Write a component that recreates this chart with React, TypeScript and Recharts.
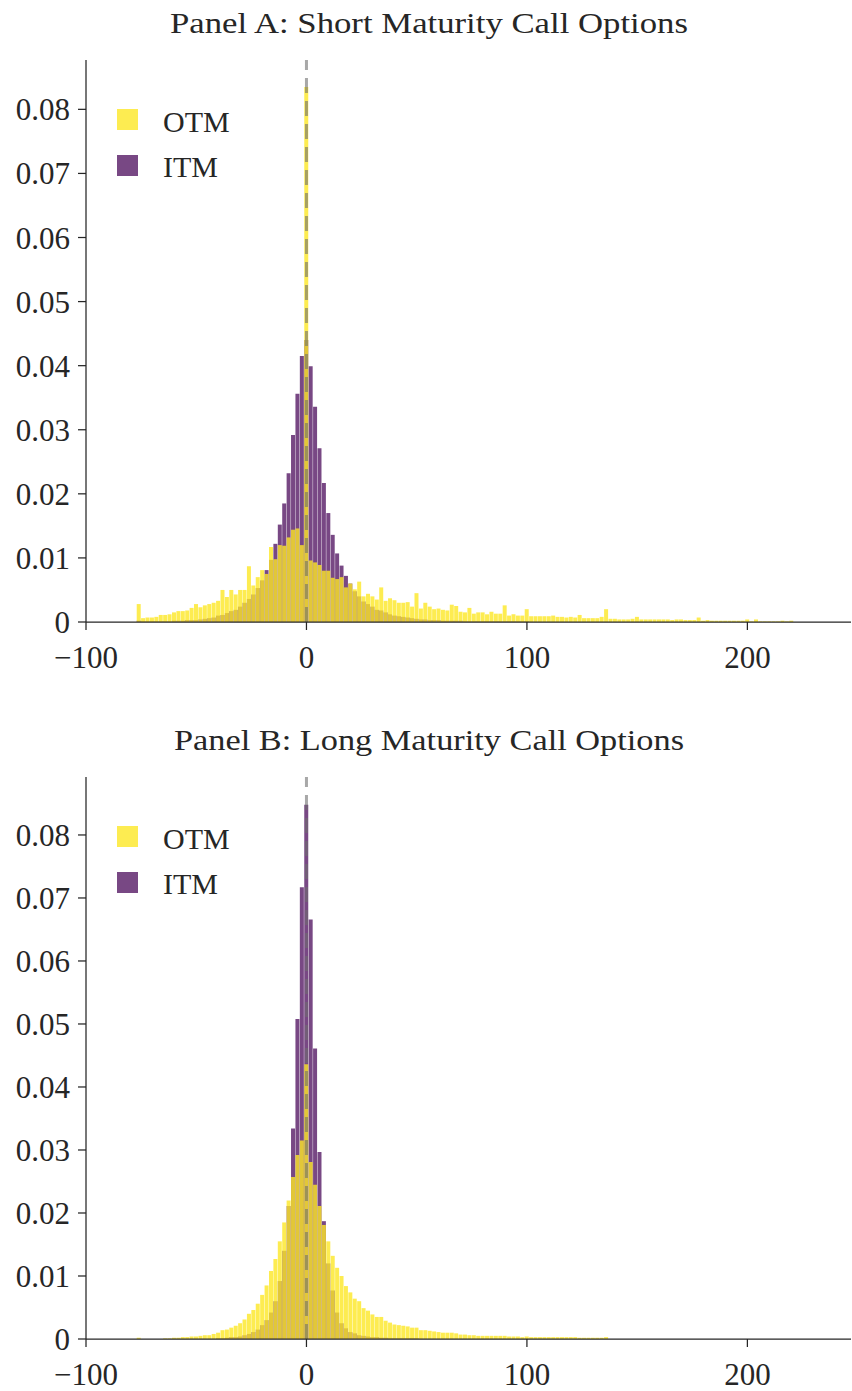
import React from 'react';
import { ComposedChart, Bar, XAxis, YAxis, ReferenceLine } from 'recharts';

// Histogram bin centres (bin width 2)
const binCenters = [
  -76, -74, -72, -70, -68, -66, -64, -62, -60, -58,
  -56, -54, -52, -50, -48, -46, -44, -42, -40, -38,
  -36, -34, -32, -30, -28, -26, -24, -22, -20, -18,
  -16, -14, -12, -10, -8, -6, -4, -2, 0, 2,
  4, 6, 8, 10, 12, 14, 16, 18, 20, 22,
  24, 26, 28, 30, 32, 34, 36, 38, 40, 42,
  44, 46, 48, 50, 52, 54, 56, 58, 60, 62,
  64, 66, 68, 70, 72, 74, 76, 78, 80, 82,
  84, 86, 88, 90, 92, 94, 96, 98, 100, 102,
  104, 106, 108, 110, 112, 114, 116, 118, 120, 122,
  124, 126, 128, 130, 132, 134, 136, 138, 140, 142,
  144, 146, 148, 150, 152, 154, 156, 158, 160, 162,
  164, 166, 168, 170, 172, 174, 176, 178, 180, 182,
  184, 186, 188, 190, 192, 194, 196, 198, 200, 202,
  204, 206, 208, 210, 212, 214, 216, 218, 220, 222,
];

// Panel A: short maturity
const shortOTM = [
  0.0028, 0.0006, 0.0007, 0.0007, 0.0008, 0.0011, 0.0011, 0.0012, 0.0015, 0.0017,
  0.0017, 0.0018, 0.0022, 0.0028, 0.0023, 0.0026, 0.0028, 0.003, 0.0033, 0.005,
  0.0039, 0.005, 0.0043, 0.005, 0.005, 0.0087, 0.0057, 0.007, 0.0081, 0.0075,
  0.0117, 0.0098, 0.012, 0.0119, 0.0132, 0.0144, 0.0146, 0.012, 0.0835, 0.0096,
  0.0093, 0.0089, 0.008, 0.008, 0.0069, 0.0067, 0.007, 0.0054, 0.006, 0.0051,
  0.0063, 0.004, 0.0044, 0.004, 0.0035, 0.0054, 0.0033, 0.0037, 0.0034, 0.003,
  0.003, 0.0031, 0.0024, 0.0045, 0.0021, 0.003, 0.0024, 0.002, 0.0021, 0.0019,
  0.0018, 0.0027, 0.0025, 0.0016, 0.0015, 0.0022, 0.0013, 0.0015, 0.0015, 0.0012,
  0.0016, 0.0013, 0.0013, 0.0026, 0.001, 0.0012, 0.001, 0.001, 0.002, 0.0009,
  0.0009, 0.0009, 0.0009, 0.0009, 0.001, 0.0008, 0.0008, 0.0007, 0.0008, 0.0007,
  0.0011, 0.0006, 0.0006, 0.0006, 0.0006, 0.0008, 0.002, 0.0005, 0.0005, 0.0004,
  0.0004, 0.0004, 0.0005, 0.0008, 0.0004, 0.0004, 0.0004, 0.0004, 0.0004, 0.0004,
  0.0004, 0.0003, 0.0004, 0.0004, 0.0003, 0.0003, 0.0003, 0.0007, 0.0002, 0.0003,
  0.0002, 0.0002, 0.0002, 0.0002, 0.0002, 0.0002, 0.0002, 0.0002, 0.0004, 0.0001,
  0.0004, 0.0001, 0.0001, 0.0001, 0.0001, 0.0001, 0.0002, 0.0001, 0.0002, 0,
];
const shortITM = [
  0.0002, 0.0001, 0.0001, 0.0001, 0.0001, 0.0001, 0.0001, 0.0001, 0.0002, 0.0002,
  0.0002, 0.0003, 0.0003, 0.0003, 0.0004, 0.0005, 0.0006, 0.0007, 0.001, 0.0011,
  0.0014, 0.0017, 0.0019, 0.0024, 0.003, 0.0036, 0.0043, 0.0053, 0.0065, 0.0081,
  0.0097, 0.0122, 0.0152, 0.0185, 0.0232, 0.0292, 0.0356, 0.0415, 0.044, 0.0399,
  0.0336, 0.0271, 0.0217, 0.017, 0.0136, 0.0107, 0.0088, 0.0072, 0.006, 0.0048,
  0.004, 0.0032, 0.0028, 0.0024, 0.0019, 0.0018, 0.0015, 0.0012, 0.001, 0.0009,
  0.0008, 0.0007, 0.0006, 0.0005, 0.0004, 0.0004, 0.0003, 0.0003, 0.0003, 0.0002,
  0.0002, 0.0002, 0.0002, 0.0002, 0.0001, 0.0001, 0.0001, 0.0001, 0.0001, 0.0001,
  0.0001, 0.0001, 0.0001, 0.0001, 0.0001, 0.0001, 0.0001, 0.0001, 0.0001, 0,
  0, 0, 0, 0, 0, 0, 0, 0, 0, 0,
  0, 0, 0, 0, 0, 0, 0, 0, 0, 0,
  0, 0, 0, 0, 0, 0, 0, 0, 0, 0,
  0, 0, 0, 0, 0, 0, 0, 0, 0, 0,
  0, 0, 0, 0, 0, 0, 0, 0, 0, 0,
  0, 0, 0, 0, 0, 0, 0, 0, 0, 0,
];

// Panel B: long maturity
const longOTM = [
  0.0002, 0, 0, 0, 0, 0, 0.0001, 0.0001, 0.0002, 0.0002,
  0.0003, 0.0003, 0.0004, 0.0004, 0.0005, 0.0006, 0.0006, 0.0008, 0.001, 0.0014,
  0.0015, 0.0018, 0.0021, 0.0025, 0.0031, 0.004, 0.0046, 0.0056, 0.007, 0.0085,
  0.0108, 0.0127, 0.0155, 0.0185, 0.022, 0.0257, 0.0292, 0.0315, 0.0436, 0.0281,
  0.0245, 0.0211, 0.0181, 0.0155, 0.0132, 0.0113, 0.01, 0.0084, 0.0074, 0.0064,
  0.006, 0.0049, 0.0045, 0.0039, 0.0035, 0.0035, 0.0029, 0.0026, 0.0023, 0.0022,
  0.0021, 0.002, 0.0018, 0.0018, 0.0014, 0.0014, 0.0013, 0.0012, 0.0011, 0.001,
  0.001, 0.001, 0.0009, 0.0007, 0.0007, 0.0006, 0.0006, 0.0005, 0.0005, 0.0005,
  0.0005, 0.0005, 0.0005, 0.0005, 0.0004, 0.0004, 0.0004, 0.0003, 0.0004, 0.0003,
  0.0003, 0.0003, 0.0003, 0.0003, 0.0003, 0.0003, 0.0003, 0.0003, 0.0003, 0.0003,
  0.0002, 0.0002, 0.0002, 0.0002, 0.0002, 0.0002, 0.0003, 0, 0, 0,
  0, 0, 0, 0, 0, 0, 0, 0, 0, 0,
  0, 0, 0, 0, 0, 0, 0, 0, 0, 0,
  0, 0, 0, 0, 0, 0, 0, 0, 0, 0,
  0, 0, 0, 0, 0, 0, 0, 0, 0, 0,
];
const longITM = [
  0, 0, 0, 0, 0, 0, 0, 0, 0, 0,
  0, 0, 0, 0, 0, 0, 0, 0, 0.0001, 0.0001,
  0.0002, 0.0003, 0.0003, 0.0004, 0.0006, 0.0008, 0.0011, 0.0015, 0.0022, 0.003,
  0.0042, 0.006, 0.0092, 0.014, 0.0211, 0.0334, 0.0508, 0.0717, 0.0848, 0.0666,
  0.0461, 0.0297, 0.0187, 0.012, 0.0077, 0.0042, 0.0025, 0.0017, 0.0011, 0.0009,
  0.0006, 0.0005, 0.0004, 0.0003, 0.0003, 0.0002, 0.0002, 0.0001, 0.0001, 0.0001,
  0.0001, 0.0001, 0.0001, 0.0001, 0, 0, 0, 0, 0, 0,
  0, 0, 0, 0, 0, 0, 0, 0, 0, 0,
  0, 0, 0, 0, 0, 0, 0, 0, 0, 0,
  0, 0, 0, 0, 0, 0, 0, 0, 0, 0,
  0, 0, 0, 0, 0, 0, 0, 0, 0, 0,
  0, 0, 0, 0, 0, 0, 0, 0, 0, 0,
  0, 0, 0, 0, 0, 0, 0, 0, 0, 0,
  0, 0, 0, 0, 0, 0, 0, 0, 0, 0,
  0, 0, 0, 0, 0, 0, 0, 0, 0, 0,
];

const xTicks = [-100, 0, 100, 200];
const yTicks = [0, 0.01, 0.02, 0.03, 0.04, 0.05, 0.06, 0.07, 0.08];
const seriesNames = ['OTM', 'ITM'];
const panelTitles = ['Panel A: Short Maturity Call Options', 'Panel B: Long Maturity Call Options'];

const INK = '#262626';
const FONT = '"Liberation Serif", "Times New Roman", serif';
const OTM_COLOR = '#FDE725';
const ITM_COLOR = '#440154';
const OTM_ALPHA = 0.8;
const ITM_ALPHA = 0.72;

const fmtX = (v: number) => (v < 0 ? '\u2212' + Math.abs(v) : String(v));
const fmtY = (v: number) => (v === 0 ? '0' : v.toFixed(2));

type PanelProps = {
  title: string;
  titleWidth: number;
  otm: number[];
  itm: number[];
  yMax: number;
  top: number;
};

function Panel({ title, titleWidth, otm, itm, yMax, top }: PanelProps) {
  const data = binCenters.map((x, i) => ({ x, otm: otm[i], itm: itm[i] }));
  const tickStyle = { fill: INK, fontSize: 31, fontFamily: FONT };
  const lineStyle = { stroke: INK, strokeWidth: 1.25 };
  return (
    <div style={{ position: 'absolute', left: 0, top, width: 852, height: 700 }}>
      <div style={{ position: 'absolute', left: 0, top: 0 }}>
        <ComposedChart width={852} height={700} data={data} margin={{ top: 60, right: 1, bottom: 8, left: 0 }}>
          <XAxis
            xAxisId="itm"
            dataKey="x"
            type="number"
            domain={[-100, 247]}
            allowDataOverflow
            ticks={xTicks}
            interval={0}
            tickFormatter={fmtX}
            tickSize={8}
            tickMargin={16}
            height={70}
            axisLine={lineStyle}
            tickLine={lineStyle}
            tick={tickStyle}
          />
          <XAxis xAxisId="otm" dataKey="x" type="number" domain={[-100, 247]} allowDataOverflow hide />
          <YAxis
            width={86}
            type="number"
            domain={[0, yMax]}
            allowDataOverflow
            ticks={yTicks}
            interval={0}
            tickFormatter={fmtY}
            tickSize={8}
            tickMargin={8}
            axisLine={lineStyle}
            tickLine={lineStyle}
            tick={tickStyle}
          />
          <Bar xAxisId="itm" dataKey="itm" fill={ITM_COLOR} fillOpacity={ITM_ALPHA} barSize={4} isAnimationActive={false} />
          <Bar xAxisId="otm" dataKey="otm" fill={OTM_COLOR} fillOpacity={OTM_ALPHA} barSize={4} isAnimationActive={false} />
          <ReferenceLine
            xAxisId="itm"
            x={0}
            stroke="#6e6e6e"
            strokeOpacity={0.6}
            strokeWidth={3}
            strokeDasharray="15 8"
          />
        </ComposedChart>
      </div>
      <svg width={852} height={200} style={{ position: 'absolute', left: 0, top: 0, pointerEvents: 'none' }}>
        <text
          x={429}
          y={33}
          textAnchor="middle"
          fontFamily={FONT}
          fontSize={29}
          fill={INK}
          textLength={titleWidth}
          lengthAdjust="spacingAndGlyphs"
        >
          {title}
        </text>
        <rect x={117} y={109} width={21} height={21} fill={OTM_COLOR} fillOpacity={OTM_ALPHA} />
        <rect x={117} y={155} width={21} height={21} fill={ITM_COLOR} fillOpacity={ITM_ALPHA} />
        <text x={163} y={131.5} fontFamily={FONT} fontSize={30} fill={INK}>{seriesNames[0]}</text>
        <text x={163} y={176.5} fontFamily={FONT} fontSize={30} fill={INK}>{seriesNames[1]}</text>
      </svg>
    </div>
  );
}

export default function App() {
  return (
    <div style={{ position: 'absolute', left: 0, top: 0, width: 852, height: 1391, background: '#fff', overflow: 'hidden' }}>
      <Panel title={panelTitles[0]} titleWidth={518} otm={shortOTM} itm={shortITM} yMax={0.0877} top={0} />
      <Panel title={panelTitles[1]} titleWidth={510} otm={longOTM} itm={longITM} yMax={0.0892} top={717} />
    </div>
  );
}
